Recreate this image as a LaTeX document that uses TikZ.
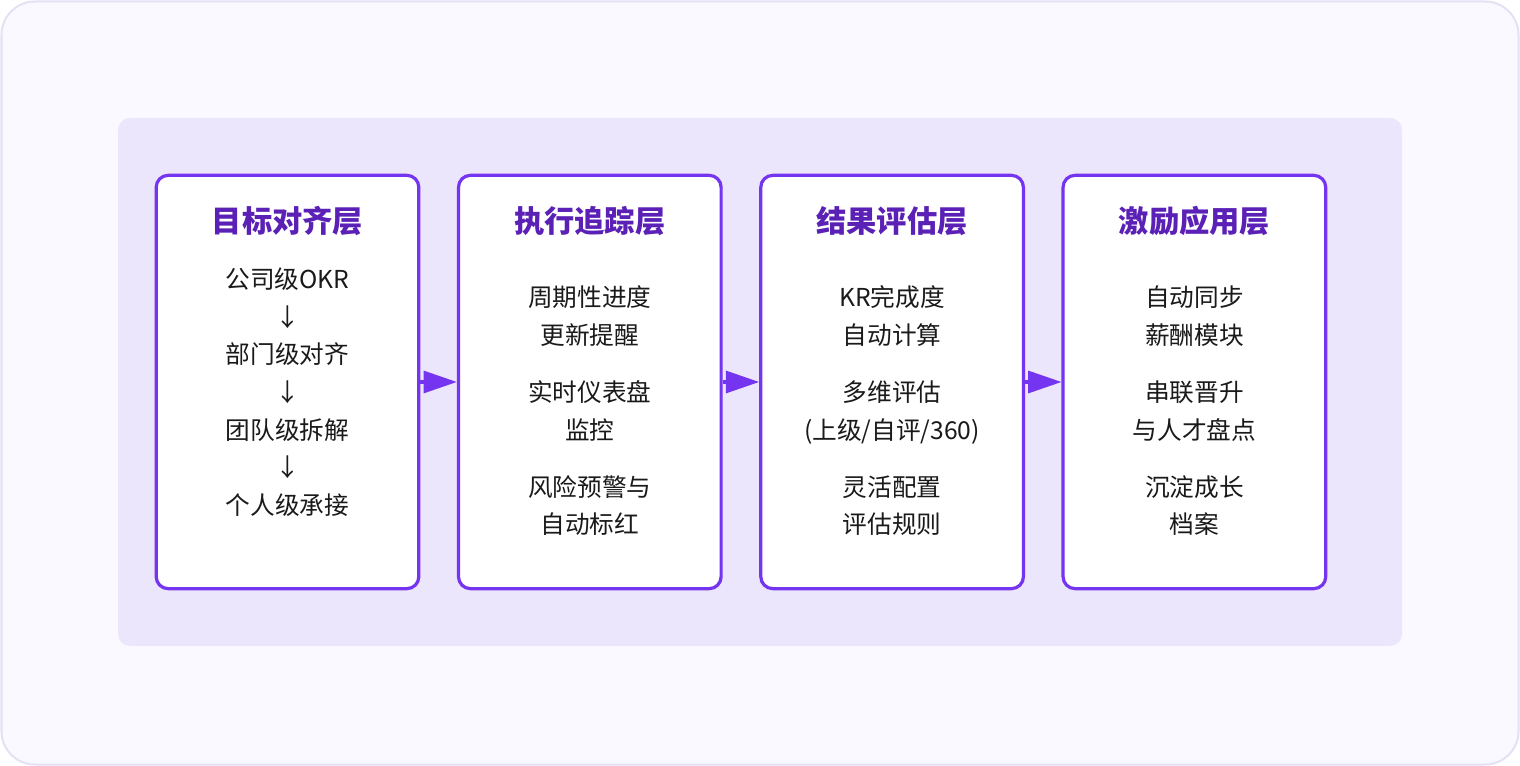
\documentclass[tikz,border=0pt]{standalone}
\usepackage{fontspec}
\setmainfont{Noto Sans CJK SC}
\usetikzlibrary{arrows.meta}
\definecolor{outerfill}{HTML}{FAF9FF}
\definecolor{outerline}{HTML}{E3E1F3}
\definecolor{panelfill}{HTML}{ECE6FD}
\definecolor{boxline}{HTML}{7535F0}
\definecolor{titlecol}{HTML}{5B21B6}
\definecolor{textcol}{HTML}{1A1A1A}
\begin{document}
\begin{tikzpicture}[x=0.75pt,y=-0.75pt,
  layerbox/.style={draw=boxline, line width=2.4pt, fill=white, rounded corners=9pt,
    minimum width=197pt, minimum height=310pt, inner sep=0pt},
  titletext/.style={font=\fontsize{22.7}{26}\selectfont\bfseries, text=titlecol, inner sep=0pt},
  bodytext/.style={font=\fontsize{18.5}{28.25}\selectfont, text=textcol, align=center, inner sep=0pt},
  flow/.style={draw=boxline, line width=2.4pt, -{Triangle[length=25pt,width=16.5pt]}}]
\useasboundingbox (0,0) rectangle (1520,766);
\draw[fill=outerfill, draw=outerline, line width=1.5pt, rounded corners=25pt] (1.5,1.5) rectangle (1518.5,764.5);
\fill[panelfill, rounded corners=9pt] (118,118) rectangle (1402,646);

\node[layerbox] (b1) at (287.5,382) {};
\node[layerbox] (b2) at (589.8,382) {};
\node[layerbox] (b3) at (892.1,382) {};
\node[layerbox] (b4) at (1194.4,382) {};

\node[titletext] (t1) at (287.5,221) {目标对齐层};
\node[titletext] (t2) at (589.8,221) {执行追踪层};
\node[titletext] (t3) at (892.1,221) {结果评估层};
\node[titletext] (t4) at (1194.4,221) {激励应用层};

\node[bodytext] (x1) at (287.5,392) {公司级OKR\\↓\\部门级对齐\\↓\\团队级拆解\\↓\\个人级承接};
\node[bodytext] (x2) at (589.8,411) {周期性进度\\更新提醒\\[14.5pt]实时仪表盘\\监控\\[14.5pt]风险预警与\\自动标红};
\node[bodytext] (x3) at (892.1,411) {KR完成度\\自动计算\\[14.5pt]多维评估\\(上级/自评/360)\\[14.5pt]灵活配置\\评估规则};
\node[bodytext] (x4) at (1194.4,411) {自动同步\\薪酬模块\\[14.5pt]串联晋升\\与人才盘点\\[14.5pt]沉淀成长\\档案};

\draw[flow] (b1) -- (b2);
\draw[flow] (b2) -- (b3);
\draw[flow] (b3) -- (b4);
\end{tikzpicture}
\end{document}
